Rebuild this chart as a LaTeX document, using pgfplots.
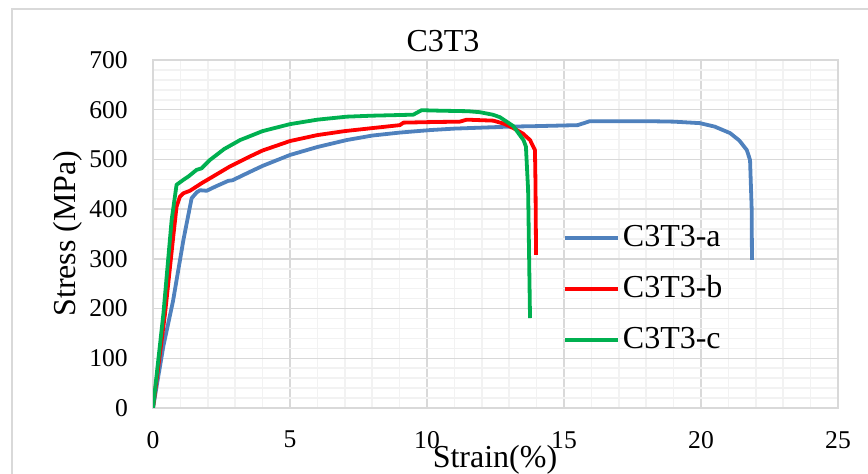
\documentclass[border=0pt]{standalone}
\usepackage{fontspec}
\setmainfont{Liberation Serif}
\usepackage{pgfplots}
\pgfplotsset{compat=1.18}
\definecolor{cblue}{HTML}{4F81BD}
\definecolor{cred}{HTML}{FF0000}
\definecolor{cgreen}{HTML}{00B050}
\definecolor{majgrid}{HTML}{D9D9D9}
\definecolor{mingrid}{HTML}{F2F2F2}
\begin{document}
\begin{tikzpicture}
\useasboundingbox (0pt,0pt) rectangle (868pt,474pt);
\draw[majgrid, line width=1.2pt] (12pt,0pt) -- (12pt,465pt) -- (868pt,465pt);
\begin{axis}[
    at={(153pt,66pt)}, anchor=south west,
    scale only axis,
    width=685pt, height=348pt,
    xmin=0, xmax=25, ymin=0, ymax=700,
    xtick={0,5,10,15,20,25},
    ytick={0,100,...,700},
    minor x tick num=4,
    minor y tick num=4,
    grid=both,
    major grid style={majgrid, line width=1.3pt},
    minor grid style={mingrid, line width=1.5pt},
    axis line style={majgrid, line width=1.3pt},
    major tick length=0pt, minor tick length=0pt,
    /pgf/number format/assume math mode=true,
    ticklabel style={font=\fontsize{25.6}{30}\selectfont, inner sep=0pt},
    xticklabel style={anchor=north, yshift=-23pt},
    yticklabel style={anchor=east, xshift=-25pt},
    legend cell align=left,
    legend image code/.code={\draw[#1] (0pt,0pt) -- (53pt,0pt);},
    legend style={draw=none, fill=none, at={(axis cs:14.96,374)}, anchor=north west,
        font=\fontsize{32}{36}\selectfont, inner sep=0pt, row sep=19pt,
        nodes={inner sep=0pt, text height=24pt, text depth=8pt},
        /tikz/every odd column/.append style={column sep=3pt}},
]
\addplot[cblue, line width=3.8pt, line join=round] coordinates {
(0,0) (0.38,125) (0.73,215) (1.11,338) (1.41,422) (1.6,434) (1.72,438) (1.96,437)
(2.3,446) (2.75,457) (2.9,458) (3.05,462) (3.5,474) (4,487) (5,509) (6,525)
(7.07,539) (8,548) (9,554) (10.1,559) (11,562) (12,564) (13,566) (14,567)
(15.5,569) (15.95,577) (17,577) (18,577) (19,576) (19.96,573) (20.5,566)
(21.06,553) (21.4,538) (21.67,519) (21.79,499) (21.85,400) (21.86,298)};
\addlegendentry{C3T3-a}
\addplot[cred, line width=3.8pt, line join=round] coordinates {
(0,0) (0.44,190) (0.74,345) (0.86,405) (0.98,425) (1.11,432) (1.35,437) (1.77,452)
(2.2,466) (2.81,486) (3.5,505) (4,518) (5,537) (6,549) (7,557) (8,563)
(9.01,569) (9.14,574) (10,575) (11.2,576) (11.45,580) (12.42,578) (12.8,572)
(13.15,563) (13.5,552) (13.76,539) (13.94,519) (13.96,450) (13.98,308)};
\addlegendentry{C3T3-b}
\addplot[cgreen, line width=3.8pt, line join=round] coordinates {
(0,0) (0.38,190) (0.68,378) (0.86,449) (1.11,459) (1.3,466) (1.59,479) (1.77,482)
(2.08,499) (2.6,521) (3.18,539) (4,557) (5,571) (6,580) (7.07,586) (8,588)
(9.5,590) (9.8,599) (10.5,598) (11.5,597) (11.93,595) (12.4,590) (12.66,585)
(13.15,567) (13.52,539) (13.61,526) (13.69,439) (13.76,181)};
\addlegendentry{C3T3-c}
\end{axis}
\node[font=\fontsize{32}{36}\selectfont, inner sep=0pt, anchor=base] at (443pt,422pt) {C3T3};
\node[font=\fontsize{32}{36}\selectfont, inner sep=0pt, anchor=base] at (495pt,6pt) {Strain(\%)};
\node[font=\fontsize{32}{36}\selectfont, inner sep=0pt, anchor=base, rotate=90] at (75pt,240.5pt) {Stress (MPa)};
\end{tikzpicture}
\end{document}
